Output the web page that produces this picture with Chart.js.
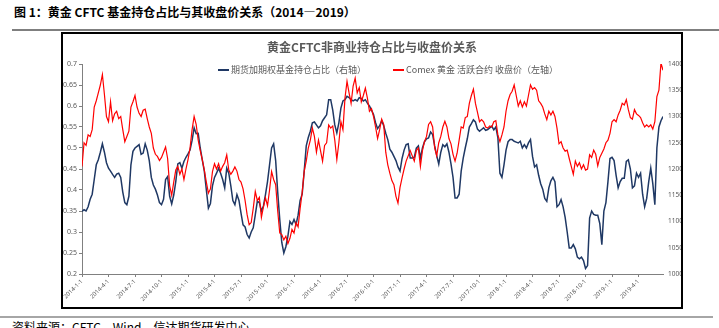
<!DOCTYPE html>
<html lang="zh">
<head>
  <meta charset="UTF-8">
  <title>黄金CFTC非商业持仓占比与收盘价关系</title>
  <script src="https://cdn.jsdelivr.net/npm/chart.js"></script>
  <style>
    body {
      margin: 0;
      width: 719px;
      height: 328px;
      overflow: hidden;
      background: #fff;
      font-family: "Noto Sans CJK SC", sans-serif;
      position: relative;
    }
    #figTitle {
      position: absolute;
      left: 14px;
      top: 3px;
      font-size: 12px;
      font-weight: bold;
      color: #000;
      white-space: nowrap;
    }
    #topRule {
      position: absolute;
      left: 12px;
      right: 0;
      top: 29px;
      height: 2px;
      background: #7f7f7f;
    }
    #box {
      position: absolute;
      left: 61px;
      top: 32px;
      width: 618px;
      height: 273px;
      border: 2px solid #000;
    }
    #bottomRule {
      position: absolute;
      left: 0;
      width: 713px;
      top: 316px;
      height: 2px;
      background: #a6a6a6;
    }
    #source {
      position: absolute;
      left: 12px;
      top: 318px;
      font-size: 12px;
      color: #000;
      white-space: nowrap;
    }
  </style>
</head>
<body>
  <div id="figTitle">图 1：黄金 CFTC 基金持仓占比与其收盘价关系（2014—2019）</div>
  <div id="topRule"></div>
  <div id="box"><canvas id="goldChart" width="618" height="273"></canvas></div>
  <div id="bottomRule"></div>
  <div id="source">资料来源：CFTC，Wind，信达期货研发中心</div>

  <script>
    // weekly data, 2014-01-07 .. 2019-06 (286 weeks)
    const chartTitle = '黄金CFTC非商业持仓占比与收盘价关系';
    const seriesNames = ['期货加期权基金持仓占比（右轴）', 'Comex 黄金 活跃合约 收盘价（左轴）'];
    const quarterLabels = [
      '2014-1-1', '2014-4-1', '2014-7-1', '2014-10-1',
      '2015-1-1', '2015-4-1', '2015-7-1', '2015-10-1',
      '2016-1-1', '2016-4-1', '2016-7-1', '2016-10-1',
      '2017-1-1', '2017-4-1', '2017-7-1', '2017-10-1',
      '2018-1-1', '2018-4-1', '2018-7-1', '2018-10-1',
      '2019-1-1', '2019-4-1'
    ];

    const ratio = [
      0.349,0.353,0.350,0.360,0.378,0.390,0.425,0.460,0.472,0.490,
      0.510,0.490,0.465,0.452,0.445,0.437,0.430,0.438,0.440,0.430,
      0.395,0.370,0.365,0.385,0.460,0.492,0.500,0.504,0.508,0.485,
      0.488,0.510,0.495,0.470,0.430,0.412,0.402,0.388,0.370,0.365,
      0.378,0.425,0.432,0.385,0.367,0.388,0.420,0.462,0.465,0.452,
      0.468,0.478,0.486,0.495,0.518,0.548,0.534,0.535,0.500,0.472,
      0.445,0.400,0.357,0.368,0.410,0.430,0.440,0.452,0.440,0.425,
      0.405,0.452,0.440,0.410,0.375,0.365,0.389,0.375,0.345,0.317,
      0.312,0.294,0.286,0.300,0.310,0.341,0.373,0.370,0.350,0.362,
      0.389,0.420,0.460,0.500,0.510,0.470,0.395,0.330,0.275,0.250,
      0.265,0.290,0.325,0.318,0.330,0.318,0.340,0.375,0.390,0.445,
      0.505,0.525,0.540,0.560,0.562,0.555,0.548,0.553,0.565,0.572,
      0.579,0.615,0.615,0.590,0.555,0.536,0.560,0.595,0.612,0.615,
      0.623,0.620,0.615,0.612,0.615,0.612,0.620,0.618,0.612,0.615,
      0.607,0.600,0.590,0.580,0.560,0.546,0.553,0.565,0.553,0.535,
      0.520,0.497,0.490,0.480,0.470,0.455,0.445,0.475,0.495,0.508,
      0.510,0.476,0.476,0.478,0.500,0.505,0.476,0.500,0.515,0.522,
      0.524,0.538,0.532,0.505,0.482,0.462,0.490,0.508,0.503,0.510,
      0.490,0.462,0.430,0.381,0.381,0.390,0.445,0.476,0.500,0.522,
      0.550,0.558,0.567,0.562,0.545,0.540,0.544,0.548,0.542,0.544,
      0.548,0.552,0.543,0.550,0.525,0.440,0.430,0.460,0.495,0.515,
      0.520,0.520,0.516,0.514,0.512,0.516,0.500,0.508,0.500,0.512,
      0.520,0.480,0.455,0.460,0.435,0.415,0.402,0.380,0.373,0.405,
      0.422,0.430,0.420,0.360,0.365,0.377,0.360,0.335,0.300,0.262,
      0.262,0.270,0.260,0.240,0.236,0.240,0.232,0.213,0.220,0.333,
      0.350,0.342,0.340,0.340,0.320,0.270,0.350,0.370,0.420,0.475,
      0.478,0.470,0.435,0.405,0.420,0.428,0.428,0.468,0.472,0.450,
      0.405,0.410,0.440,0.430,0.440,0.390,0.360,0.380,0.420,0.452,
      0.415,0.365,0.500,0.550,0.565,0.575
    ];

    const price = [
      1205,1250,1245,1265,1262,1275,1318,1330,1345,1360,
      1380,1342,1300,1290,1328,1292,1305,1310,1296,1300,
      1275,1252,1262,1272,1318,1328,1340,1318,1306,1300,
      1312,1314,1296,1280,1268,1240,1228,1224,1216,1222,
      1232,1242,1220,1168,1150,1175,1198,1205,1190,1200,
      1180,1200,1218,1240,1275,1300,1285,1255,1235,1218,
      1198,1175,1154,1162,1195,1210,1200,1210,1196,1205,
      1212,1227,1198,1190,1196,1204,1196,1180,1175,1162,
      1140,1113,1094,1098,1125,1157,1140,1146,1108,1128,
      1145,1130,1160,1195,1180,1170,1120,1078,1075,1065,
      1072,1058,1068,1085,1078,1098,1090,1125,1155,1196,
      1215,1240,1255,1278,1262,1232,1255,1235,1215,1245,
      1250,1284,1278,1282,1255,1218,1250,1290,1275,1335,
      1367,1345,1325,1358,1373,1345,1355,1328,1340,1354,
      1335,1310,1315,1300,1280,1258,1275,1295,1285,1232,
      1208,1192,1178,1170,1148,1135,1165,1183,1200,1215,
      1225,1235,1225,1215,1235,1240,1205,1235,1252,1262,
      1285,1290,1280,1240,1225,1250,1262,1280,1291,1280,
      1258,1248,1228,1215,1230,1255,1280,1278,1298,1300,
      1325,1340,1352,1325,1308,1290,1294,1290,1280,1278,
      1282,1280,1290,1292,1265,1252,1265,1280,1310,1330,
      1342,1348,1360,1340,1320,1330,1318,1328,1320,1340,
      1360,1352,1355,1350,1330,1325,1318,1305,1294,1310,
      1303,1310,1300,1278,1248,1252,1240,1234,1236,1220,
      1205,1190,1215,1205,1212,1200,1208,1198,1200,1227,
      1222,1236,1228,1206,1222,1230,1238,1250,1255,1268,
      1290,1294,1290,1303,1312,1325,1322,1332,1313,1298,
      1295,1313,1305,1302,1298,1288,1280,1284,1280,1284,
      1276,1290,1338,1350,1402,1388
    ];

    const weeksPerQuarter = 13;
    const toPoints = arr => arr.map((v, i) => ({ x: i, y: v }));

    // legend sits inside the plot area in the original, so draw it by hand
    const inlineLegend = {
      id: 'inlineLegend',
      afterDraw(chart) {
        const ctx = chart.ctx;
        ctx.save();
        ctx.font = '9px "Noto Sans CJK SC"';
        ctx.textBaseline = 'middle';
        const y = chart.chartArea.top + 6;
        let x = 155;
        chart.data.datasets.forEach(ds => {
          ctx.strokeStyle = ds.borderColor;
          ctx.lineWidth = 2;
          ctx.beginPath();
          ctx.moveTo(x, y);
          ctx.lineTo(x + 11, y);
          ctx.stroke();
          ctx.fillStyle = '#595959';
          ctx.fillText(ds.label, x + 13, y);
          x += 13 + ctx.measureText(ds.label).width + 27;
        });
        ctx.restore();
      }
    };

    const tickFont = { family: 'Noto Sans', size: 7 };

    new Chart(document.getElementById('goldChart'), {
      type: 'line',
      data: {
        datasets: [
          {
            label: seriesNames[0],
            data: toPoints(ratio),
            yAxisID: 'y',
            borderColor: '#1f3864',
            borderWidth: 1.5,
            pointRadius: 0,
            order: 1
          },
          {
            label: seriesNames[1],
            data: toPoints(price),
            yAxisID: 'y2',
            borderColor: '#ff0000',
            borderWidth: 1.2,
            pointRadius: 0,
            order: 0
          }
        ]
      },
      options: {
        responsive: false,
        animation: false,
        devicePixelRatio: 1,
        layout: { padding: 0 },
        plugins: {
          legend: { display: false },
          tooltip: { enabled: false },
          title: {
            display: true,
            text: chartTitle,
            color: '#595959',
            font: { family: 'Noto Sans CJK SC', size: 12, weight: 'bold' },
            padding: { top: 6, bottom: 9.6 }
          }
        },
        scales: {
          x: {
            type: 'linear',
            min: 0,
            max: ratio.length - 1,
            afterBuildTicks: s => {
              s.ticks = quarterLabels.map((_, i) => ({ value: i * weeksPerQuarter }));
            },
            afterFit: s => { s.height = 33; },
            ticks: {
              autoSkip: false,
              minRotation: 45,
              maxRotation: 45,
              padding: 1,
              color: '#595959',
              font: { family: 'Noto Sans', size: 6 },
              callback: v => quarterLabels[Math.round(v / weeksPerQuarter)]
            },
            grid: { drawOnChartArea: false, drawTicks: true, tickLength: 3, color: '#808080' },
            border: { color: '#808080', width: 1 }
          },
          y: {
            position: 'left',
            min: 0.2,
            max: 0.7,
            afterFit: s => { s.width = 19; },
            ticks: {
              stepSize: 0.05,
              padding: 2,
              color: '#595959',
              font: tickFont,
              callback: v => +v.toFixed(2)
            },
            grid: { drawOnChartArea: false, drawTicks: true, tickLength: 3, color: '#808080' },
            border: { color: '#808080', width: 1 }
          },
          y2: {
            position: 'right',
            min: 1000,
            max: 1400,
            afterFit: s => { s.width = 18; },
            ticks: {
              stepSize: 50,
              padding: 5,
              color: '#595959',
              font: { family: 'Noto Sans', size: 6.5 },
              callback: v => String(v)
            },
            grid: { display: false, drawTicks: false },
            border: { display: false }
          }
        }
      },
      plugins: [inlineLegend]
    });
  </script>
</body>
</html>
